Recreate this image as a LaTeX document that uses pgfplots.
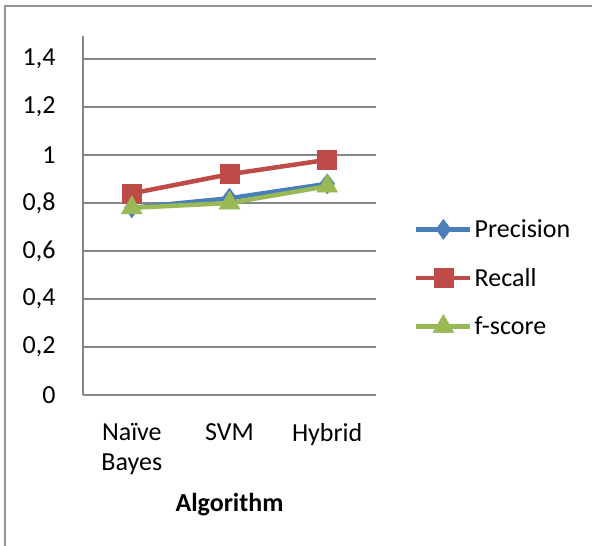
\documentclass[border=0pt]{standalone}
\usepackage{pgfplots}
\pgfplotsset{compat=1.18}
\usepackage{fontspec}
\setmainfont{Carlito}
\definecolor{cblue}{HTML}{4A7EBB}
\definecolor{cred}{HTML}{BE4B48}
\definecolor{cgreen}{HTML}{98B954}
\definecolor{cgrid}{HTML}{868686}
\begin{document}
\begin{tikzpicture}[x=1pt,y=1pt]
\path[use as bounding box] (0pt,0pt) rectangle (592pt,546pt);
\draw[line width=2pt, color=cgrid!90] (5pt,0pt) -- (5pt,540pt) -- (592pt,540pt);
\begin{axis}[
  at={(83pt,151pt)}, anchor=south west,
  scale only axis, width=293pt, height=359pt,
  xmin=-0.5, xmax=2.5,
  ymin=0, ymax=1.496,
  ytick={0,0.2,...,1.4},
  xtick={0,1,2},
  xticklabels={Naïve\\Bayes, SVM, Hybrid},
  xticklabel style={align=center, text depth=0pt},
  x tick label style={font=\fontsize{26}{30}\selectfont},
  y tick label style={font=\fontsize{26}{30}\selectfont},
  /pgf/number format/assume math mode=true,
  /pgf/number format/use comma,
  ymajorgrids, major grid style={cgrid, line width=1.2pt},
  axis x line*=bottom, axis y line*=left,
  axis line style={cgrid, line width=1.2pt, -},
  major tick length=0pt,
  xlabel={\textbf{Algorithm}},
  xlabel style={font=\fontsize{26}{30}\selectfont, yshift=-16pt},
  yticklabel style={xshift=-24pt},
  xticklabel style={yshift=-25pt},
  legend style={at={(1,0.326)}, anchor=west, xshift=38pt, draw=none,
    font=\fontsize{26}{30}\selectfont, row sep=25pt, inner sep=0pt},
  legend cell align=left,
  legend image code/.code={
    \draw[#1, mark repeat=2, mark phase=2] plot coordinates {(0pt,0pt) (27pt,0pt) (54pt,0pt)};
  },
  every axis plot/.append style={line width=4.5pt},
]
\addplot[cblue, mark=diamond*, mark size=10pt, mark options={solid, fill=cblue, draw=cblue, line width=0.5pt}]
  coordinates {(0,0.78) (1,0.82) (2,0.88)};
\addlegendentry{Precision}
\addplot[cred, mark=square*, mark size=9.5pt, mark options={solid, fill=cred, draw=cred, line width=0.5pt}]
  coordinates {(0,0.84) (1,0.92) (2,0.98)};
\addlegendentry{Recall}
\addplot[cgreen, mark=triangle*, mark size=12pt, mark options={solid, fill=cgreen, draw=cgreen, line width=0.5pt}]
  coordinates {(0,0.78) (1,0.80) (2,0.87)};
\addlegendentry{f-score}
\end{axis}
\end{tikzpicture}
\end{document}
